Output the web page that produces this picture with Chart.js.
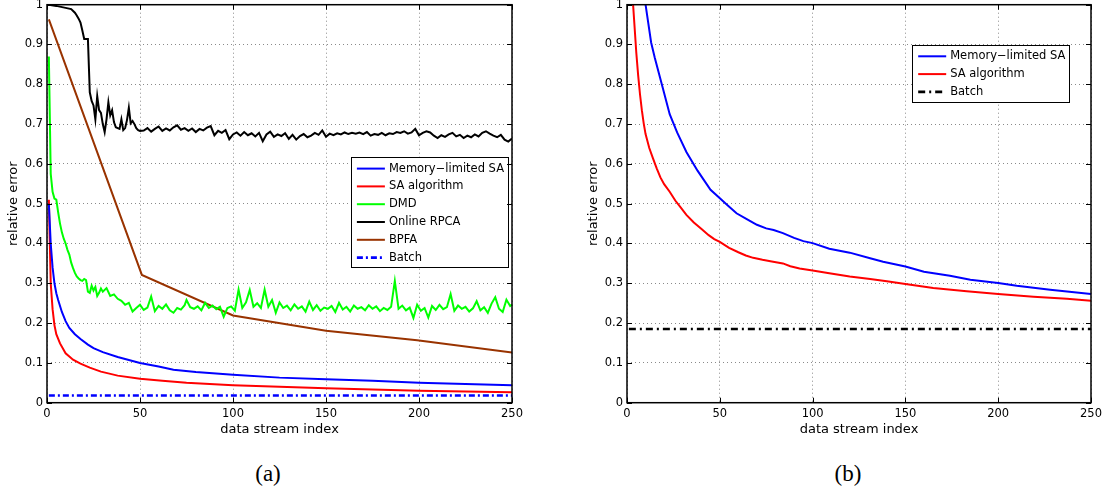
<!DOCTYPE html>
<html>
<head>
<meta charset="utf-8">
<script src="https://cdn.jsdelivr.net/npm/chart.js@4.4.1/dist/chart.umd.min.js"></script>
<style>
  html, body { margin: 0; padding: 0; background: #fff; }
  body { width: 1109px; height: 492px; position: relative; overflow: hidden; }
  canvas.panel { position: absolute; top: 0; }
  .cap { position: absolute; width: 80px; text-align: center; color: #000;
         font-family: "Liberation Serif", "Times New Roman", serif; font-size: 23px; line-height: 23px; }
</style>
</head>
<body>
<canvas id="chartA" class="panel" width="525" height="440" style="left:0px"></canvas>
<canvas id="chartB" class="panel" width="524" height="440" style="left:580px"></canvas>
<div class="cap" style="left:228px; top:462px">(a)</div>
<div class="cap" style="left:808px; top:462px">(b)</div>

<script>
// ---- axis ticks ----
const xTicks = [0, 50, 100, 150, 200, 250];
const yTicks = [0, 0.1, 0.2, 0.3, 0.4, 0.5, 0.6, 0.7, 0.8, 0.9, 1];

// ---- series names ----
const nameMemSA = 'Memory\u2212limited SA';
const nameSA = 'SA algorithm';
const nameDMD = 'DMD';
const nameRPCA = 'Online RPCA';
const nameBPFA = 'BPFA';
const nameBatch = 'Batch';

// ---- panel (a): [data stream index, relative error] ----
const memSA_a = [[1,0.500],[2,0.400],[3,0.340],[4,0.300],[5,0.275],[6,0.258],[8,0.228],[10,0.205],
  [12,0.188],[15,0.172],[18,0.160],[22,0.146],[25,0.137],[30,0.127],[38,0.115],[50,0.100],[60,0.091],
  [68,0.083],[80,0.077],[100,0.070],[125,0.063],[150,0.059],[175,0.055],[200,0.050],[225,0.047],[250,0.044]];

const sa_a = [[1,0.510],[2,0.300],[3,0.235],[4,0.195],[5,0.172],[7,0.149],[10,0.124],[14,0.108],
  [18,0.098],[23,0.088],[29,0.078],[38,0.068],[50,0.060],[62,0.055],[75,0.050],[100,0.044],[125,0.040],
  [150,0.036],[175,0.033],[200,0.030],[225,0.028],[250,0.026]];

const dmd_a = [[1,0.870],[2,0.575],[3,0.530],[4,0.513],[5,0.510],[6,0.478],[7,0.450],[8,0.428],[9,0.412],[10,0.400],
  [11,0.384],[12,0.372],[13,0.352],[14,0.338],[15,0.326],[16,0.317],[17,0.312],[18,0.308],[19,0.306],[20,0.311],
  [21,0.308],[22,0.279],[23,0.276],[24,0.294],[25,0.282],[26,0.291],[27,0.268],[28,0.276],[29,0.287],[30,0.279],
  [32,0.288],[34,0.268],[36,0.272],[38,0.261],[40,0.256],[42,0.246],[44,0.251],[46,0.229],[48,0.238],[50,0.246],
  [52,0.233],[54,0.239],[56,0.267],[58,0.230],[60,0.243],[62,0.236],[64,0.247],[66,0.232],[68,0.226],[70,0.238],
  [72,0.234],[74,0.245],[75,0.258],[77,0.240],[79,0.236],[81,0.242],[83,0.232],[85,0.251],[87,0.238],[89,0.244],
  [91,0.235],[93,0.241],[95,0.216],[97,0.238],[99,0.242],[101,0.231],[103,0.284],[105,0.238],[107,0.252],[109,0.283],
  [111,0.241],[113,0.250],[115,0.238],[117,0.284],[119,0.241],[121,0.258],[123,0.226],[125,0.252],[127,0.238],[129,0.244],
  [131,0.232],[133,0.247],[135,0.236],[137,0.242],[139,0.229],[141,0.254],[143,0.233],[145,0.245],[147,0.231],[149,0.239],
  [151,0.236],[153,0.243],[155,0.228],[157,0.251],[159,0.234],[161,0.241],[163,0.229],[165,0.244],[167,0.236],[169,0.240],
  [171,0.232],[173,0.245],[175,0.236],[177,0.242],[179,0.230],[181,0.238],[183,0.233],[185,0.241],[187,0.306],[189,0.236],
  [191,0.244],[193,0.232],[195,0.239],[197,0.213],[199,0.246],[201,0.231],[203,0.238],[205,0.214],[207,0.243],[209,0.233],
  [211,0.246],[213,0.235],[215,0.240],[217,0.273],[219,0.231],[221,0.244],[223,0.236],[225,0.241],[227,0.229],[229,0.237],
  [231,0.255],[233,0.232],[235,0.240],[237,0.226],[239,0.249],[241,0.265],[243,0.236],[245,0.228],[247,0.259],[249,0.243],
  [250,0.247]];

const rpca_a = [[1,1.000],[5,0.997],[10,0.992],[13,0.989],[15,0.980],[16,0.973],[17,0.965],[18,0.955],[19,0.935],[20,0.914],
  [22,0.914],[23,0.780],[24,0.758],[25,0.747],[26,0.712],[27,0.770],[28,0.735],[29,0.728],[30,0.700],[31,0.680],
  [32,0.712],[33,0.755],[34,0.722],[35,0.735],[36,0.705],[37,0.692],[38,0.690],[39,0.688],[40,0.712],[41,0.685],
  [42,0.690],[43,0.710],[44,0.741],[45,0.702],[46,0.708],[47,0.700],[48,0.690],[49,0.685],[50,0.683],
  [52,0.684],[54,0.690],[56,0.681],[58,0.688],[60,0.694],[62,0.683],[64,0.689],[66,0.684],[68,0.692],[70,0.697],
  [72,0.686],[74,0.690],[76,0.683],[78,0.689],[80,0.680],[82,0.688],[84,0.684],[86,0.691],[88,0.695],[90,0.672],
  [92,0.683],[94,0.678],[96,0.685],[98,0.662],[100,0.674],[102,0.679],[104,0.671],[106,0.680],[108,0.672],[110,0.677],
  [112,0.669],[114,0.678],[116,0.657],[118,0.674],[120,0.681],[122,0.668],[124,0.674],[126,0.670],[128,0.677],[130,0.663],
  [132,0.673],[134,0.661],[136,0.670],[138,0.675],[140,0.667],[142,0.671],[144,0.678],[146,0.673],[148,0.684],[150,0.668],
  [152,0.676],[154,0.672],[156,0.677],[158,0.674],[160,0.679],[162,0.675],[164,0.678],[166,0.676],[168,0.679],[170,0.675],
  [172,0.680],[174,0.671],[176,0.675],[178,0.673],[180,0.678],[182,0.672],[184,0.677],[186,0.675],[188,0.680],[190,0.678],
  [192,0.682],[194,0.676],[196,0.679],[198,0.688],[200,0.672],[202,0.678],[204,0.682],[206,0.679],[208,0.671],[210,0.665],
  [212,0.672],[214,0.668],[216,0.674],[218,0.678],[220,0.669],[222,0.673],[224,0.665],[226,0.671],[228,0.667],[230,0.674],
  [232,0.669],[234,0.678],[236,0.682],[238,0.676],[240,0.671],[242,0.667],[244,0.673],[246,0.661],[248,0.656],[250,0.664]];

const bpfa_a = [[1,0.963],[51,0.321],[100,0.219],[150,0.181],[199,0.157],[250,0.126]];

const batch_a = [[1,0.018],[250,0.018]];

// ---- panel (b) ----
const memSA_b = [[8,1.08],[10,1.0],[13,0.905],[15,0.866],[19,0.796],[23,0.725],[27,0.679],[32,0.630],[38,0.583],
  [45,0.535],[49,0.518],[54,0.497],[59,0.476],[65,0.460],[70,0.447],[75,0.438],[79,0.434],[84,0.426],[90,0.414],
  [95,0.406],[100,0.401],[109,0.387],[120,0.377],[131,0.363],[138,0.354],[150,0.342],[160,0.329],[174,0.319],
  [185,0.309],[200,0.301],[210,0.294],[228,0.284],[250,0.273]];

const sa_b = [[2,1.08],[3,1.02],[5,0.88],[6,0.823],[7,0.775],[8,0.735],[9,0.702],[10,0.675],[12,0.640],[14,0.614],
  [16,0.589],[18,0.566],[20,0.549],[23,0.530],[26,0.508],[29,0.490],[32,0.472],[36,0.453],[40,0.437],[44,0.421],
  [47,0.411],[50,0.404],[55,0.389],[60,0.378],[64,0.370],[68,0.364],[73,0.359],[78,0.355],[84,0.350],[88,0.343],
  [93,0.337],[100,0.332],[109,0.325],[120,0.317],[131,0.311],[140,0.305],[150,0.298],[165,0.288],[183,0.280],
  [200,0.273],[219,0.266],[237,0.261],[250,0.256]];

const batch_b = [[1,0.185],[250,0.185]];

// ---- helpers ----
const toXY = pts => pts.map(([x, y]) => ({ x, y }));

function series(label, pts, color, width, dash) {
  return {
    label, data: toXY(pts), borderColor: color, backgroundColor: color,
    borderWidth: width, borderDash: dash || [], pointRadius: 0, pointHoverRadius: 0,
    tension: 0, fill: false
  };
}

Chart.defaults.font.family = '"DejaVu Sans", "Liberation Sans", Arial, sans-serif';
Chart.defaults.color = '#000';

// Box around the plot area with inward tick marks on all four sides
const axesBox = {
  id: 'axesBox',
  afterDraw(chart) {
    const { ctx, chartArea: a, scales } = chart;
    const len = 5;
    ctx.save();
    ctx.strokeStyle = '#000';
    ctx.lineWidth = 1;
    ctx.beginPath();
    xTicks.forEach(v => {
      const px = Math.round(scales.x.getPixelForValue(v)) + 0.5;
      ctx.moveTo(px, a.bottom); ctx.lineTo(px, a.bottom - len);
      ctx.moveTo(px, a.top); ctx.lineTo(px, a.top + len);
    });
    yTicks.forEach(v => {
      const py = Math.round(scales.y.getPixelForValue(v)) + 0.5;
      ctx.moveTo(a.left, py); ctx.lineTo(a.left + len, py);
      ctx.moveTo(a.right, py); ctx.lineTo(a.right - len, py);
    });
    ctx.stroke();
    ctx.lineWidth = 1.5;
    ctx.strokeRect(a.left, a.top, a.right - a.left, a.bottom - a.top);
    ctx.restore();
  }
};

// Legend drawn as a framed box inside the plot area
const insetLegend = {
  id: 'insetLegend',
  afterDatasetsDraw(chart, args, o) {
    const { ctx, chartArea: a } = chart;
    const items = chart.data.datasets;
    ctx.save();
    ctx.font = o.font;
    const textW = Math.max(...items.map(d => ctx.measureText(d.label).width));
    const w = o.sampleLeft + o.sampleLen + o.textGap + textW + o.padRight;
    const h = o.padTop + items.length * o.rowH + o.padBottom;
    const x = a.right - o.right - w;
    const y = a.top + o.top;
    ctx.fillStyle = '#fff';
    ctx.fillRect(x, y, w, h);
    ctx.strokeStyle = '#000';
    ctx.lineWidth = 1;
    ctx.strokeRect(Math.round(x) + 0.5, Math.round(y) + 0.5, Math.round(w), Math.round(h));
    items.forEach((d, i) => {
      const cy = y + o.padTop + o.rowH * (i + 0.5);
      ctx.strokeStyle = d.borderColor;
      ctx.lineWidth = d.borderWidth;
      ctx.setLineDash(d.borderDash || []);
      ctx.beginPath();
      ctx.moveTo(x + o.sampleLeft, cy);
      ctx.lineTo(x + o.sampleLeft + o.sampleLen, cy);
      ctx.stroke();
      ctx.setLineDash([]);
      ctx.fillStyle = '#000';
      ctx.textAlign = 'left';
      ctx.textBaseline = 'middle';
      ctx.fillText(d.label, x + o.sampleLeft + o.sampleLen + o.textGap, cy);
    });
    ctx.restore();
  }
};

function scalesConfig() {
  const grid = { color: '#8a8a8a', lineWidth: 1, drawTicks: false };
  const border = { display: false, dash: [1, 3] };
  return {
    x: {
      type: 'linear', min: 0, max: 250,
      afterBuildTicks: s => { s.ticks = xTicks.map(v => ({ value: v })); },
      ticks: { padding: 4.5, font: { size: 11.5 }, color: '#000', maxRotation: 0, autoSkip: false,
               callback: v => String(v) },
      grid, border,
      title: { display: true, text: 'data stream index', color: '#000', font: { size: 13 },
               padding: { top: 0, bottom: 2.7 } },
      afterFit: s => { s.height = 37.3; s.paddingLeft = 0; s.paddingRight = 0; }
    },
    y: {
      type: 'linear', min: 0, max: 1,
      afterBuildTicks: s => { s.ticks = yTicks.map(v => ({ value: v })); },
      ticks: { padding: 4, font: { size: 11.5 }, color: '#000', callback: v => String(+v.toFixed(1)) },
      grid, border,
      title: { display: true, text: 'relative error', color: '#000', font: { size: 13 },
               padding: { top: 6, bottom: 0 } },
      afterFit: s => { s.width = 47; s.paddingTop = 0; s.paddingBottom = 0; }
    }
  };
}

function makeChart(id, datasets, legendPos) {
  return new Chart(document.getElementById(id), {
    type: 'line',
    data: { datasets },
    options: {
      responsive: false, animation: false, devicePixelRatio: 1,
      layout: { padding: { top: 4.7, right: 13, bottom: 0, left: 0 } },
      scales: scalesConfig(),
      plugins: {
        legend: { display: false }, tooltip: { enabled: false },
        insetLegend: Object.assign({
          font: '11.5px "DejaVu Sans", "Liberation Sans", sans-serif',
          sampleLeft: 6, sampleLen: 28, textGap: 4, padRight: 4,
          rowH: 17.8, padTop: 2.4, padBottom: 1.2
        }, legendPos)
      }
    },
    plugins: [insetLegend, axesBox]
  });
}

makeChart('chartA', [
  series(nameMemSA, memSA_a, '#0000ff', 2),
  series(nameSA, sa_a, '#ff0000', 2),
  series(nameDMD, dmd_a, '#00ff00', 2),
  series(nameRPCA, rpca_a, '#000000', 2),
  series(nameBPFA, bpfa_a, '#993300', 2),
  series(nameBatch, batch_a, '#0000ff', 2.6, [6, 3, 2, 3])
], { right: 4, top: 152.6 });

makeChart('chartB', [
  series(nameMemSA, memSA_b, '#0000ff', 2),
  series(nameSA, sa_b, '#ff0000', 2),
  series(nameBatch, batch_b, '#000000', 2.6, [7, 4, 2, 4])
], { right: 21.7, top: 40.3 });
</script>
</body>
</html>
